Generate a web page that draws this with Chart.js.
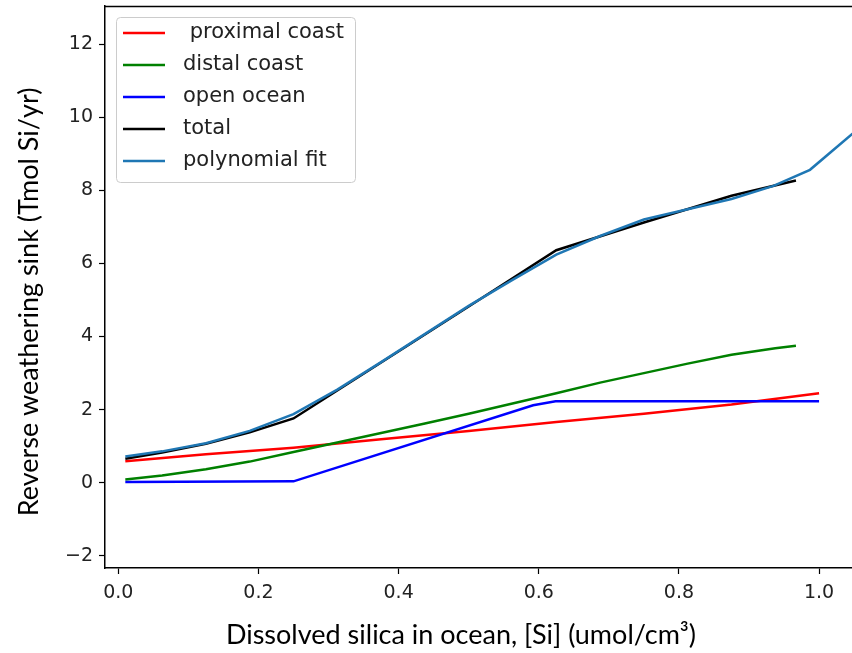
<!DOCTYPE html>
<html>
<head>
<meta charset="utf-8">
<script src="https://cdn.jsdelivr.net/npm/chart.js@4.4.1/dist/chart.umd.min.js"></script>
<style>
  html, body { margin: 0; padding: 0; background: #fff; overflow: hidden; }
  #wrap { width: 852px; height: 653px; position: relative; }
</style>
</head>
<body>
<div id="wrap"><canvas id="sinkChart" width="852" height="653"></canvas></div>
<script>
// reverse weathering sink vs dissolved silica, per environment
var proximalX = [0.01, 0.125, 0.25, 0.375, 0.5, 0.625, 0.75, 0.875, 1.0];
var proximalY = [0.59, 0.78, 0.96, 1.19, 1.42, 1.66, 1.89, 2.14, 2.45];

var distalX = [0.01, 0.0625, 0.125, 0.1875, 0.25, 0.3125, 0.375, 0.4375, 0.5, 0.5625, 0.625, 0.6875, 0.75, 0.8125, 0.875, 0.9375, 0.967];
var distalY = [0.09, 0.20, 0.37, 0.58, 0.84, 1.10, 1.36, 1.62, 1.89, 2.17, 2.45, 2.74, 3.00, 3.26, 3.50, 3.68, 3.75];

var openX = [0.01, 0.25, 0.592, 0.624, 1.0];
var openY = [0.02, 0.04, 2.12, 2.23, 2.23];

var totalX = [0.01, 0.0625, 0.125, 0.1875, 0.25, 0.375, 0.5, 0.625, 0.75, 0.875, 0.967];
var totalY = [0.66, 0.83, 1.07, 1.38, 1.76, 3.29, 4.82, 6.36, 7.12, 7.85, 8.27];

var fitX = [0.01, 0.0625, 0.125, 0.1875, 0.25, 0.3125, 0.375, 0.5, 0.5625, 0.625, 0.6875, 0.75, 0.8125, 0.875, 0.935, 0.987, 1.1];
var fitY = [0.72, 0.86, 1.08, 1.42, 1.88, 2.55, 3.30, 4.84, 5.55, 6.24, 6.75, 7.20, 7.48, 7.76, 8.12, 8.56, 10.4];

var seriesNames = [' proximal coast', 'distal coast', 'open ocean', 'total', 'polynomial fit'];
var seriesColors = ['#ff0000', '#008000', '#0000ff', '#000000', '#1f77b4'];

var xTicks = [0, 0.2, 0.4, 0.6, 0.8, 1.0];
var yTicks = [-2, 0, 2, 4, 6, 8, 10, 12];

var xTitle = 'Dissolved silica in ocean, [Si] (umol/cm\u00b3)';
var yTitle = 'Reverse weathering sink (Tmol Si/yr)';

function toPoints(xs, ys) {
    return xs.map(function (x, i) { return { x: x, y: ys[i] }; });
}

var seriesData = [
    toPoints(proximalX, proximalY),
    toPoints(distalX, distalY),
    toPoints(openX, openY),
    toPoints(totalX, totalY),
    toPoints(fitX, fitY)
];

var datasets = seriesData.map(function (pts, i) {
    return {
        label: seriesNames[i],
        data: pts,
        borderColor: seriesColors[i],
        backgroundColor: seriesColors[i],
        borderWidth: 2.5,
        pointRadius: 0,
        tension: 0,
        fill: false,
        // later series sit on top
        order: seriesData.length - i
    };
});

var tickFont = { family: 'DejaVu Sans', size: 19 };
var textColor = '#222222';

// top spine, axis titles and the boxed legend inside the plot
var framePlugin = {
    id: 'frame',
    afterDraw: function (chart) {
        var ctx = chart.ctx;
        var area = chart.chartArea;
        ctx.save();

        ctx.strokeStyle = '#000';
        ctx.lineWidth = 1.5;
        ctx.beginPath();
        ctx.moveTo(area.left, area.top + 0.5);
        ctx.lineTo(area.right, area.top + 0.5);
        ctx.stroke();

        ctx.fillStyle = '#000';
        ctx.font = '27px Lato';
        ctx.textAlign = 'center';
        ctx.textBaseline = 'middle';
        ctx.fillText(xTitle, 461, 635);

        ctx.translate(29, 302);
        ctx.rotate(-Math.PI / 2);
        ctx.fillText(yTitle, 0, 0);
        ctx.setTransform(1, 0, 0, 1, 0, 0);

        var bx = area.left + 11, by = area.top + 11, bw = 239, bh = 165;
        ctx.fillStyle = 'rgba(255,255,255,0.8)';
        ctx.strokeStyle = '#cccccc';
        ctx.lineWidth = 1;
        ctx.beginPath();
        ctx.roundRect(bx + 0.5, by + 0.5, bw, bh, 4);
        ctx.fill();
        ctx.stroke();

        ctx.font = '21px "DejaVu Sans"';
        ctx.textAlign = 'left';
        chart.data.datasets.forEach(function (ds, i) {
            var ly = by + 16 + i * 32;
            ctx.strokeStyle = ds.borderColor;
            ctx.lineWidth = 2.5;
            ctx.beginPath();
            ctx.moveTo(bx + 7, ly);
            ctx.lineTo(bx + 49, ly);
            ctx.stroke();
            ctx.fillStyle = textColor;
            ctx.fillText(ds.label, bx + 67, ly);
        });
        ctx.restore();
    }
};

var ctxSink = document.getElementById('sinkChart').getContext('2d');
var sinkChart = new Chart(ctxSink, {
    type: 'line',
    data: { datasets: datasets },
    options: {
        responsive: false,
        animation: false,
        layout: { padding: { top: 6, left: 0, right: 0, bottom: 0 } },
        plugins: {
            legend: { display: false },
            tooltip: { enabled: false }
        },
        scales: {
            x: {
                type: 'linear',
                min: -0.019,
                max: 1.047,
                afterFit: function (scale) {
                    scale.height = 85;
                    scale.paddingLeft = 0;
                    scale.paddingRight = 0;
                },
                afterBuildTicks: function (scale) {
                    scale.ticks = xTicks.map(function (v) { return { value: v }; });
                },
                ticks: {
                    font: tickFont,
                    color: textColor,
                    padding: 8,
                    maxRotation: 0,
                    callback: function (v) { return v.toFixed(1); }
                },
                grid: {
                    display: true,
                    drawOnChartArea: false,
                    drawTicks: true,
                    tickLength: 6,
                    tickColor: '#000',
                    tickWidth: 1.2
                },
                border: { display: true, color: '#000', width: 1.5 }
            },
            y: {
                type: 'linear',
                min: -2.33,
                max: 13.04,
                afterFit: function (scale) {
                    scale.width = 105;
                    scale.paddingTop = 0;
                    scale.paddingBottom = 0;
                },
                afterBuildTicks: function (scale) {
                    scale.ticks = yTicks.map(function (v) { return { value: v }; });
                },
                ticks: {
                    font: tickFont,
                    color: textColor,
                    padding: 6,
                    callback: function (v) { return v < 0 ? '\u2212' + Math.abs(v) : String(v); }
                },
                grid: {
                    display: true,
                    drawOnChartArea: false,
                    drawTicks: true,
                    tickLength: 6,
                    tickColor: '#000',
                    tickWidth: 1.2
                },
                border: { display: true, color: '#000', width: 1.5 }
            }
        }
    },
    plugins: [framePlugin]
});
</script>
</body>
</html>
